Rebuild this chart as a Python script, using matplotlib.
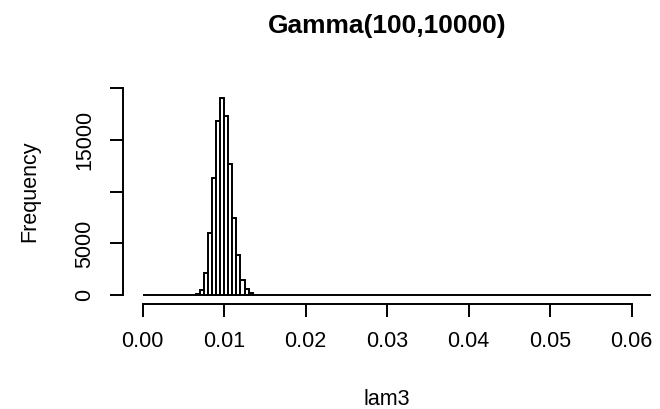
import numpy as np
import matplotlib
matplotlib.use("Agg")
import matplotlib.pyplot as plt

plt.rcParams['font.family'] = ['Liberation Sans', 'DejaVu Sans']

# histogram of lam3: bin width 0.0005 from 0 to 0.0625, only non-empty bins listed
bin_width = 0.0005
x_max = 0.0625
nonzero_left = [0.0060, 0.0065, 0.0070, 0.0075, 0.0080, 0.0085, 0.0090, 0.0095,
                0.0100, 0.0105, 0.0110, 0.0115, 0.0120, 0.0125, 0.0130, 0.0135,
                0.0140, 0.0145]
nonzero_count = [30, 150, 550, 2100, 6000, 11300, 16800, 19040,
                 17300, 12700, 7500, 3900, 1500, 580, 200, 60,
                 20, 5]
x_ticks = [0.00, 0.01, 0.02, 0.03, 0.04, 0.05, 0.06]
y_ticks = [0, 5000, 10000, 15000, 20000]
y_ticklabels = ["0", "5000", "", "15000", ""]

edges = np.round(np.arange(0, x_max + bin_width / 2, bin_width), 5)
counts = np.zeros(len(edges) - 1)
for left, c in zip(nonzero_left, nonzero_count):
    counts[int(round(left / bin_width))] = c

W, H = 660, 409
fig = plt.figure(figsize=(W / 100, H / 100), dpi=100)

# plot region in pixels, R style (xlim 0..0.06, ylim 0..20000, 4% padding)
left_px, right_px, top_px, bottom_px = 123.1, 651.3, 80.0, 303.5
ax = fig.add_axes([left_px / W, 1 - bottom_px / H,
                   (right_px - left_px) / W, (bottom_px - top_px) / H])

lw = 1.4
ax.bar(edges[:-1], counts, width=bin_width, align='edge',
       facecolor='white', edgecolor='black', linewidth=lw)

ax.set_xlim(-0.0024, 0.0624)
ax.set_ylim(-800, 20800)

for s in ['top', 'right']:
    ax.spines[s].set_visible(False)
ax.spines['left'].set_bounds(0, 20000)
ax.spines['bottom'].set_bounds(0, 0.06)
for s in ['left', 'bottom']:
    ax.spines[s].set_linewidth(lw)

ax.set_xticks(x_ticks)
ax.set_xticklabels([f"{v:.2f}" for v in x_ticks])
ax.set_yticks(y_ticks)
ax.set_yticklabels(y_ticklabels, rotation=90, va='center')
ax.tick_params(direction='out', length=9.4, width=lw, labelsize=15.5, pad=10.5)

fig.text(387 / W, 1 - 33.3 / H, "Gamma(100,10000)", ha='center', va='baseline',
         fontsize=19, fontweight='bold')
fig.text(387 / W, 1 - 405 / H, "lam3", ha='center', va='baseline', fontsize=15.5)
fig.text(35.5 / W, 1 - 191.5 / H, "Frequency", ha='center', va='baseline',
         fontsize=15.5, rotation=90, rotation_mode='anchor')

fig.savefig("out.png", dpi=100)
